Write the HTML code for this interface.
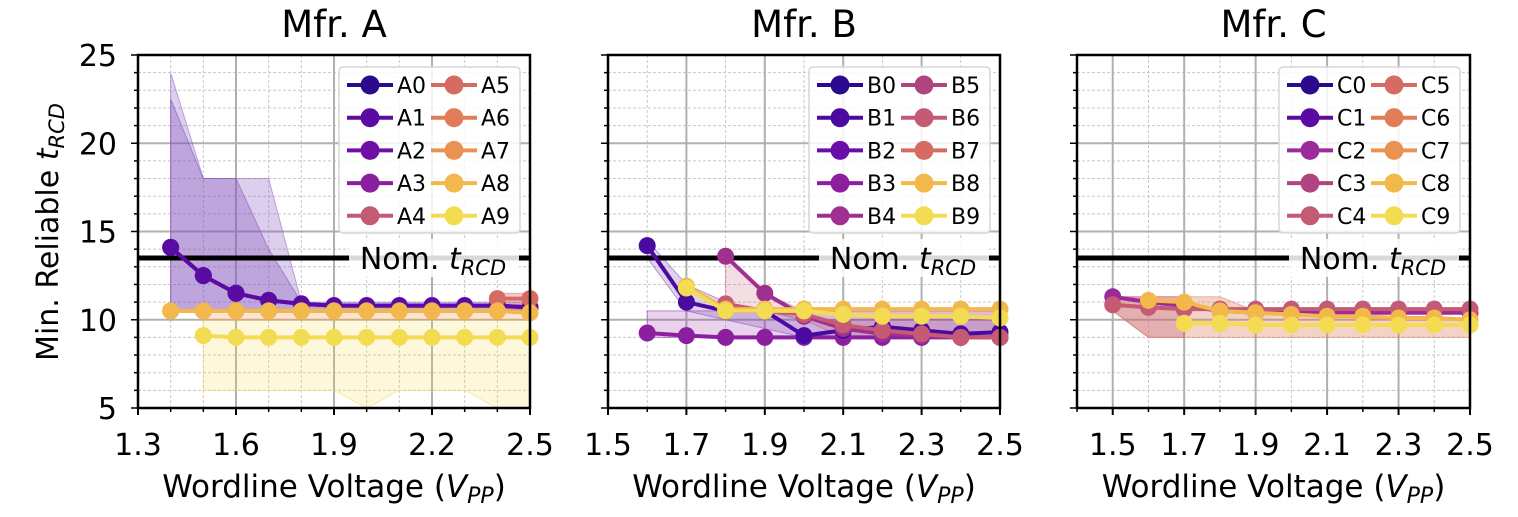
<!DOCTYPE html>
<html><head><meta charset="utf-8">
<style>
body{margin:0;background:#fff;}
svg text{font-family:"DejaVu Sans","Liberation Sans",sans-serif;}
</style></head>
<body>
<svg id="chart" width="1518" height="512" xmlns="http://www.w3.org/2000/svg"></svg>
<script>
const yTicks=[5,10,15,20,25];
const colorsA=['#2b0a8f','#5a0ba3','#6e10a6','#8c1f9f','#c45a73','#d56b62','#e07d58','#ea9252','#f3b84b','#f4dc52'];
const colorsB=['#2b0a8f','#4a0a9f','#6a0ea7','#8c1f9f','#a0308f','#b0447f','#c45a73','#d56b62','#f3b84b','#f4dc52'];
const colorsC=['#2b0a8f','#5a0ba3','#9b2a9a','#b0447f','#c45a73','#d56b62','#e07d58','#ea9252','#f3b84b','#f4dc52'];
// Panel A
const xA=[1.4,1.5,1.6,1.7,1.8,1.9,2.0,2.1,2.2,2.3,2.4,2.5];
const aPurple=[14.1,12.5,11.5,11.1,10.9,10.8,10.8,10.8,10.8,10.8,10.8,10.7];
const aRedX=[2.4,2.5];
const aRed=[11.2,11.2];
const aOrange=[10.5,10.5,10.5,10.5,10.5,10.5,10.5,10.5,10.5,10.5,10.5,10.4];
const xA9=[1.5,1.6,1.7,1.8,1.9,2.0,2.1,2.2,2.3,2.4,2.5];
const aYellow=[9.1,9.0,9.0,9.0,9.0,9.0,9.0,9.0,9.0,9.0,9.0];
const aBand1Hi=[24,18,18,18,11,11,11,11,11,11,11,11];
const aBand1Lo=[10.5,10.5,10.5,10.5,10.5,10.5,10.5,10.5,10.5,10.5,10.5,10.5];
const aBand2Hi=[22.5,18,18,14,11,10.8,10.8,10.8,10.8,10.8,10.8,10.8];
const aYBandHi=[10,10,10,10,10,10,10,10,10,10,10];
const aYBandLo=[6,6,6,6,6,5,6,6,6,5,5];
// Panel B
const xB=[1.6,1.7,1.8,1.9,2.0,2.1,2.2,2.3,2.4,2.5];
const bB1=[14.2,11.0,10.5,10.5,9.1,9.4,9.6,9.4,9.2,9.3];
const bB3=[9.25,9.1,9.0,9.0,9.0,9.0,9.0,9.0,9.0,9.0];
const xB4=[1.8,1.9,2.0,2.1,2.2,2.3,2.4,2.5];
const bB4=[13.6,11.5,10.2,9.5,9.2,9.1,9.0,9.0];
const bB6=[10.9,10.5,10.3,9.7,9.4,9.2,9.0,9.0];
const bB8=[11.9,10.6,10.6,10.6,10.6,10.6,10.6,10.6,10.6];
const bB9=[11.8,10.5,10.5,10.5,10.3,10.2,10.2,10.2,10.1];
const xB9=[1.7,1.8,1.9,2.0,2.1,2.2,2.3,2.4,2.5];
const bBandHi=[10.5,10.5,10.5,10.5,10.5,10.5,10.5,10.5,10.5,10.5];
const bBandLo=[9.0,9.0,9.0,9.0,9.0,9.0,9.0,9.0,9.0,9.0];
// Panel C
const xC=[1.5,1.6,1.7,1.8,1.9,2.0,2.1,2.2,2.3,2.4,2.5];
const cC1=[11.3,11.0,10.8,10.5,10.4,10.4,10.4,10.4,10.4,10.4,10.4];
const cC4=[10.85,10.7,10.6,10.6,10.6,10.6,10.6,10.6,10.6,10.6,10.6];
const cC8=[11.1,11.0,10.5,10.4,10.3,10.2,10.2,10.1,10.1,10.0];
const xC9=[1.7,1.8,1.9,2.0,2.1,2.2,2.3,2.4,2.5];
const cC9=[9.8,9.8,9.7,9.7,9.7,9.7,9.7,9.7,9.7];
const cBandHi=[11.3,11.3,11.3,11.3,10.5,10.3,10.2,10.1,10.0,10.0,10.0];
const cBandLo=[10.5,9.0,9.0,9.0,9.0,9.0,9.0,9.0,9.0,9.0,9.0];

const NS='http://www.w3.org/2000/svg';
const svg=document.getElementById('chart');
function mk(tag,attrs,parent){const e=document.createElementNS(NS,tag);for(const k in attrs)e.setAttribute(k,attrs[k]);(parent||svg).appendChild(e);return e;}
const Y0=408,Y1=55;
function yS(v){return Y0-(v-5)/20*(Y0-Y1);}

function panel(p){
  const g=mk('g',{});
  
  
  const xS=v=>p.x0+(v-p.xmin)/(p.xmax-p.xmin)*(p.x1-p.x0);
  for(let v=p.xmin;v<=p.xmax+1e-9;v+=0.1){const x=xS(v);mk('line',{x1:x,x2:x,y1:Y1,y2:Y0,stroke:'#c8c8c8','stroke-width':1,'stroke-dasharray':'3,2'},g);}
  for(let v=6;v<25;v++){if(v%5===0)continue;const y=yS(v);mk('line',{x1:p.x0,x2:p.x1,y1:y,y2:y,stroke:'#c8c8c8','stroke-width':1,'stroke-dasharray':'3,2'},g);}
  p.ticks.forEach(v=>{const x=xS(v);mk('line',{x1:x,x2:x,y1:Y1,y2:Y0,stroke:'#b0b0b0','stroke-width':2},g);});
  yTicks.forEach(v=>{const y=yS(v);mk('line',{x1:p.x0,x2:p.x1,y1:y,y2:y,stroke:'#b0b0b0','stroke-width':2},g);});
  p.bands.forEach(b=>{
    let d='';b.x.forEach((v,i)=>{d+=(i?'L':'M')+xS(v)+','+yS(b.hi[i]);});
    for(let i=b.x.length-1;i>=0;i--)d+='L'+xS(b.x[i])+','+yS(b.lo[i]);
    const e=mk('path',{d:d+'Z',fill:b.c,'fill-opacity':b.o,stroke:b.c,'stroke-opacity':0.5},g);
    
    
  });
  const nl=mk('line',{x1:p.x0,x2:p.x1,y1:yS(13.5),y2:yS(13.5),stroke:'#000','stroke-width':5},g);
  
  
  p.series.forEach(s=>{
    const pts=s.x.map((v,i)=>xS(v)+','+yS(s.y[i])).join(' ');
    const sg=mk('g',{},g);
    
    
    mk('polyline',{points:pts,fill:'none',stroke:s.c,'stroke-width':4},sg);
    s.x.forEach((v,i)=>{mk('circle',{cx:xS(v),cy:yS(s.y[i]),r:8.5,fill:s.c},sg);});
  });
  const lbx=p.x1-97;
  mk('rect',{x:lbx-84,y:yS(13.5)-19,width:170,height:38,fill:'#fff','fill-opacity':0.85},g);
  const t=mk('text',{x:lbx,y:yS(13.5)+11,'font-size':30,'text-anchor':'middle'},g);
  
  
  t.innerHTML='Nom. <tspan font-style="italic">t</tspan><tspan font-style="italic" font-size="21" dy="6">RCD</tspan>';
  const lg=mk('g',{},g);
  
  
  const lx=p.x1-191;
  mk('rect',{x:lx,y:67,width:181,height:166,rx:4,fill:'#fff','fill-opacity':0.85,stroke:'#d6d6d6','stroke-width':1.5},lg);
  for(let i=0;i<10;i++){
    const col=Math.floor(i/5),row=i%5;
    const cx=lx+8+col*84,cy=85+row*32.7;
    const eg=mk('g',{},lg);
    
    
    mk('line',{x1:cx,x2:cx+46,y1:cy,y2:cy,stroke:p.colors[i],'stroke-width':4},eg);
    mk('circle',{cx:cx+23,cy:cy,r:9.5,fill:p.colors[i]},eg);
    const tt=mk('text',{x:cx+50,y:cy+8,'font-size':22},eg);tt.textContent=p.id+i;
  }
  mk('rect',{x:p.x0,y:Y1,width:p.x1-p.x0,height:Y0-Y1,fill:'none',stroke:'#000','stroke-width':2.5},g);
  for(let v=p.xmin;v<=p.xmax+1e-9;v+=0.1){const x=xS(v);mk('line',{x1:x,x2:x,y1:Y0,y2:Y0+4,stroke:'#000','stroke-width':1.5},g);}
  for(let v=5;v<=25;v++){const y=yS(v);mk('line',{x1:p.x0,x2:p.x0-(v%5?4:7),y1:y,y2:y,stroke:'#000','stroke-width':1.5},g);}
  p.ticks.forEach(v=>{const x=xS(v);mk('line',{x1:x,x2:x,y1:Y0,y2:Y0+7,stroke:'#000','stroke-width':2},g);
    const tl=mk('text',{x:x,y:455,'font-size':30,'text-anchor':'middle'},g);tl.textContent=v.toFixed(1);
    
    });
  if(p.yLabels){yTicks.forEach(v=>{const tl=mk('text',{x:p.x0-21,y:yS(v)+11,'font-size':30,'text-anchor':'end'},g);tl.textContent=v;
    
    });}
  const title=mk('text',{x:(p.x0+p.x1)/2,y:37,'font-size':37,'text-anchor':'middle'},g);title.textContent='Mfr. '+p.id;
  
  
  const xl=mk('text',{x:(p.x0+p.x1)/2,y:497,'font-size':31,'text-anchor':'middle'},g);
  xl.innerHTML='Wordline Voltage (<tspan font-style="italic">V</tspan><tspan font-style="italic" font-size="22" dy="6">PP</tspan><tspan dy="-6">)</tspan>';
  
  
}

panel({id:'A',colors:colorsA,x0:138,x1:530,xmin:1.3,xmax:2.5,ticks:[1.3,1.6,1.9,2.2,2.5],yLabels:true,
 bands:[{x:xA,hi:aBand1Hi,lo:aBand1Lo,c:'#8c5cc4',o:0.3},{x:xA,hi:aBand2Hi,lo:aBand1Lo,c:'#7a4ab8',o:0.3},
        {x:aRedX,hi:[11.5,11.5],lo:[10.5,10.5],c:'#d56b62',o:0.35},
        {x:xA9,hi:aYBandHi,lo:aYBandLo,c:'#f4dc52',o:0.2},{x:xA9,hi:[10.5,10.5,10.5,10.5,10.5,10.5,10.5,10.5,10.5,10.5,10.5],lo:aYBandHi,c:'#ea9252',o:0.25}],
 series:[{n:'A2',x:xA,y:aPurple,c:'#6e10a6'},{n:'A1',x:xA,y:aPurple.map(v=>v),c:'#5a0ba3'},
   {n:'A5',x:aRedX,y:aRed,c:'#d56b62'},{n:'A7',x:xA,y:aOrange,c:'#ea9252'},{n:'A8',x:xA,y:aOrange.map(v=>v),c:'#f3b84b'},
   {n:'A9',x:xA9,y:aYellow,c:'#f4dc52'}]});

panel({id:'B',colors:colorsB,x0:608,x1:1000,xmin:1.5,xmax:2.5,ticks:[1.5,1.7,1.9,2.1,2.3,2.5],yLabels:false,
 bands:[{x:xB,hi:bBandHi,lo:bBandLo,c:'#8c1f9f',o:0.2},{x:xB,hi:[14.5,12,11,10.5,10,10,10,10,10,10],lo:[13.5,10.5,10,9.5,9,9,9,9,9,9],c:'#7a4ab8',o:0.25},
        {x:xB4,hi:[13.6,11.5,10.5,10.5,10.5,10.5,10.5,10.5],lo:[11,10.5,10,9,9,9,9,9],c:'#c45a73',o:0.2}],
 series:[{n:'B3',x:xB,y:bB3,c:'#8c1f9f'},{n:'B1',x:xB,y:bB1,c:'#4a0a9f'},{n:'B4',x:xB4,y:bB4,c:'#a0308f'},
   {n:'B6',x:xB4,y:bB6,c:'#c45a73'},{n:'B8',x:xB9,y:bB8,c:'#f3b84b'},{n:'B9',x:xB9,y:bB9,c:'#f4dc52'}]});

panel({id:'C',colors:colorsC,x0:1077,x1:1470,xmin:1.4,xmax:2.5,ticks:[1.5,1.7,1.9,2.1,2.3,2.5],yLabels:false,
 bands:[{x:[1.5,1.6,1.7],hi:[11.3,11.3,11.3],lo:[10.5,9,9],c:'#b0509a',o:0.3},
        {x:xC,hi:cBandHi,lo:cBandLo,c:'#e07d58',o:0.35}],
 series:[{n:'C2',x:xC,y:cC1,c:'#9b2a9a'},{n:'C4',x:xC,y:cC4,c:'#c45a73'},{n:'C8',x:xC.slice(1),y:cC8,c:'#f3b84b'},{n:'C9',x:xC9,y:cC9,c:'#f4dc52'}]});

const yl=mk('text',{x:0,y:0,'font-size':30,'text-anchor':'middle',transform:'translate(58,232) rotate(-90)'});
yl.innerHTML='Min. Reliable <tspan font-style="italic">t</tspan><tspan font-style="italic" font-size="21" dy="6">RCD</tspan>';


</script>
</body></html>
